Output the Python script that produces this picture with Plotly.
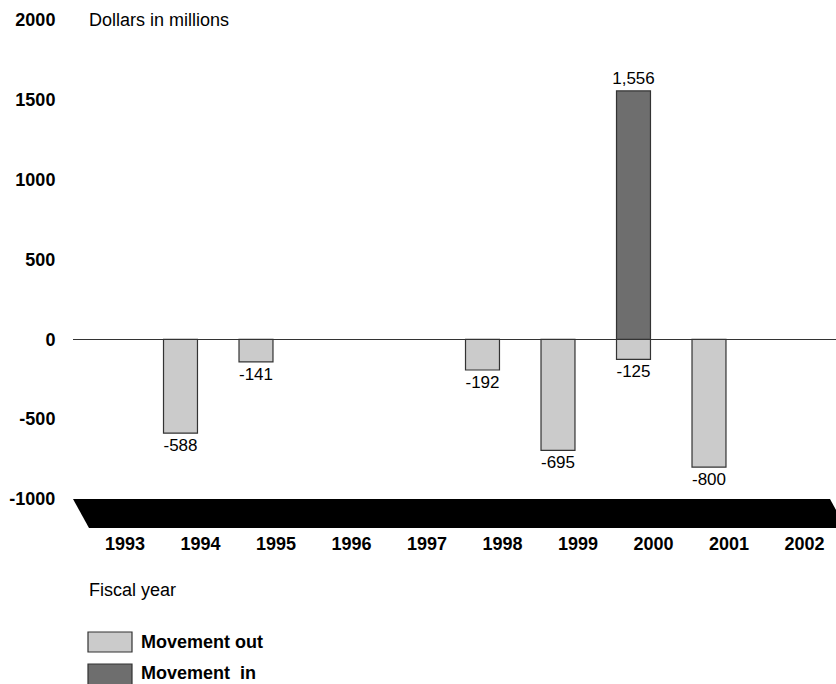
import plotly.graph_objects as go

# ---- data ----
years = [1993, 1994, 1995, 1996, 1997, 1998, 1999, 2000, 2001, 2002]
out_years = [1994, 1995, 1998, 1999, 2000, 2001]
out_values = [-588, -141, -192, -695, -125, -800]
in_years = [2000]
in_values = [1556]
y_ticks = [-1000, -500, 0, 500, 1000, 1500, 2000]

W, H = 836, 684
PL, PR, PT, PB = 73, 836, 20, 499  # plot area in screen pixels
L, T, R, B = PL, PT, W - PR, H - PB
PW, PH = PR - PL, PB - PT


def px(x):
    return (x - PL) / PW


def py(y):
    return (PB - y) / PH


FONT = "Liberation Sans, Arial, Helvetica, sans-serif"

fig = go.Figure()
fig.add_trace(go.Bar(
    x=out_years, y=out_values, name="Movement out",
    width=0.45, offset=-0.49,
    marker=dict(color="#cbcbcb", line=dict(color="#333333", width=1.2)),
    text=[f"{v:,}" for v in out_values], textposition="outside",
    textfont=dict(size=17, color="#000000", family=FONT),
    constraintext="none", cliponaxis=False, showlegend=False,
))
fig.add_trace(go.Bar(
    x=in_years, y=in_values, name="Movement  in",
    width=0.45, offset=-0.49,
    marker=dict(color="#6e6e6e", line=dict(color="#333333", width=1.2)),
    text=[f"{v:,}" for v in in_values], textposition="outside",
    textfont=dict(size=17, color="#000000", family=FONT),
    constraintext="none", cliponaxis=False, showlegend=False,
))

shapes = [
    # black slanted base band
    dict(type="path", xref="paper", yref="paper",
         path=f"M {px(73)},{py(499)} L {px(830)},{py(499)} L {px(846)},{py(528)} L {px(89)},{py(528)} Z",
         fillcolor="#000000", line=dict(width=0), layer="above"),
    # legend boxes
    dict(type="rect", xref="paper", yref="paper",
         x0=px(88), x1=px(132), y0=py(652), y1=py(632),
         fillcolor="#cbcbcb", line=dict(color="#333333", width=1.2)),
    dict(type="rect", xref="paper", yref="paper",
         x0=px(88), x1=px(132), y0=py(686), y1=py(664),
         fillcolor="#6e6e6e", line=dict(color="#333333", width=1.2)),
]

annotations = [
    dict(text="Dollars in millions", xref="paper", yref="paper",
         x=px(87), y=py(20), xanchor="left", yanchor="middle", showarrow=False,
         font=dict(size=18, family=FONT, color="#000")),
    dict(text="Fiscal year", xref="paper", yref="paper",
         x=px(87), y=py(590), xanchor="left", yanchor="middle", showarrow=False,
         font=dict(size=18, family=FONT, color="#000")),
    dict(text="<b>Movement out</b>", xref="paper", yref="paper",
         x=px(139), y=py(642), xanchor="left", yanchor="middle", showarrow=False,
         font=dict(size=18, family=FONT, color="#000")),
    dict(text="<b>Movement  in</b>", xref="paper", yref="paper",
         x=px(139), y=py(673), xanchor="left", yanchor="middle", showarrow=False,
         font=dict(size=18, family=FONT, color="#000")),
]

fig.update_layout(
    width=W, height=H,
    margin=dict(l=L, r=R, t=T, b=B, pad=0),
    paper_bgcolor="white", plot_bgcolor="white",
    barmode="overlay",
    font=dict(family=FONT, size=18, color="#000"),
    shapes=shapes, annotations=annotations,
    xaxis=dict(
        range=[1993 - 52 / 75.5, 1993 + (836 - 125) / 75.5],
        tickvals=years, ticktext=[str(y) for y in years],
        tickfont=dict(size=18, family=FONT, weight="bold"),
        ticks="outside", ticklen=28, tickcolor="rgba(0,0,0,0)",
        showgrid=False, zeroline=False, showline=False,
    ),
    yaxis=dict(
        range=[-1000, 2000],
        tickvals=y_ticks, ticktext=[str(v) for v in y_ticks],
        tickfont=dict(size=18, family=FONT, weight="bold"),
        ticks="outside", ticklen=13, tickcolor="rgba(0,0,0,0)",
        showgrid=False, showline=False,
        zeroline=True, zerolinecolor="#333333", zerolinewidth=1.2,
    ),
)

fig.write_html(
    "out.html",
    config={"displayModeBar": False},
    post_script="document.body.style.margin='0';document.body.style.overflow='hidden';",
)
